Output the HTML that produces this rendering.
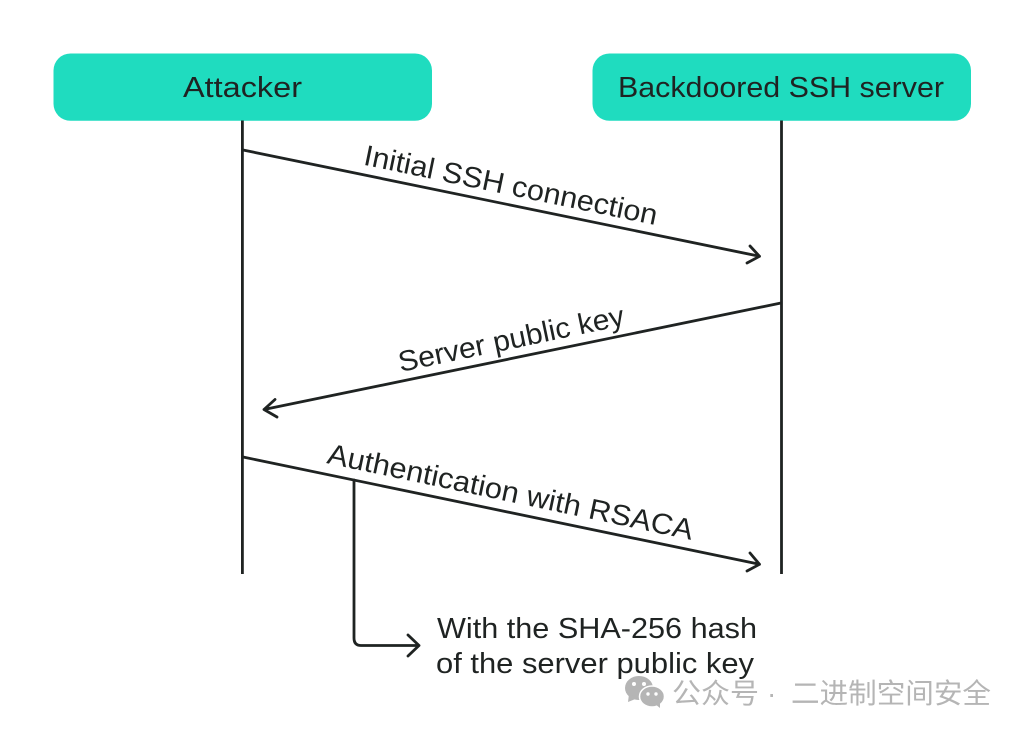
<!DOCTYPE html>
<html><head><meta charset="utf-8"><style>
html,body{margin:0;padding:0;background:#fff;width:1024px;height:734px;overflow:hidden}
svg{display:block}
text{font-family:"Liberation Sans","Noto Sans CJK SC",sans-serif;fill:#1f2322;font-size:29px}
.l{fill:none;stroke:#1f2322;stroke-width:2.8;stroke-linecap:round;stroke-linejoin:round}
.w{font-size:28px;fill:#b5b5b5}
</style></head><body>
<svg width="1024" height="734" viewBox="0 0 1024 734" xmlns="http://www.w3.org/2000/svg">
<rect width="1024" height="734" fill="#fff"/>
<rect x="53.500" y="53.500" width="378.500" height="67.300" rx="17" fill="#1fdcbf"/>
<rect x="592.500" y="53.500" width="378.500" height="67.300" rx="17" fill="#1fdcbf"/>
<text x="183" y="97" textLength="119" lengthAdjust="spacingAndGlyphs">Attacker</text>
<text x="618" y="97" textLength="326" lengthAdjust="spacingAndGlyphs">Backdoored SSH server</text>
<path class="l" style="stroke-linecap:butt" d="M242.400 120.500V574M781.500 120.500V574"/>
<path class="l" d="M243 150L759.500 256.300M750 246L759.500 256.300L747 263"/>
<path class="l" d="M781 303L264 409.500M275 399.500L264 409.500L277 417"/>
<path class="l" d="M243 457L759.500 564.300M750 553L759.500 564.300L747 571"/>
<path class="l" d="M354 480V638Q354 645.500 361 645.500H419M408 635L419 645.500L408 656"/>
<text transform="translate(362.500 164.500) rotate(11.700)" textLength="299" lengthAdjust="spacingAndGlyphs">Initial SSH connection</text>
<text transform="translate(400.500 372) rotate(-11.800)" textLength="230" lengthAdjust="spacingAndGlyphs">Server public key</text>
<text transform="translate(326 463) rotate(11.900)" textLength="373" lengthAdjust="spacingAndGlyphs">Authentication with RSACA</text>
<text x="437" y="638" textLength="320" lengthAdjust="spacingAndGlyphs">With the SHA-256 hash</text>
<text x="436" y="673" textLength="318" lengthAdjust="spacingAndGlyphs">of the server public key</text>
<g>
<ellipse cx="639" cy="688" rx="14" ry="12" fill="#b5b5b5"/>
<path d="M629 694L628 702L638 698Z" fill="#b5b5b5"/>
<circle cx="634" cy="684" r="2" fill="#fff"/>
<circle cx="644" cy="684" r="2" fill="#fff"/>
<ellipse cx="652" cy="696.500" rx="12.500" ry="10.500" fill="#b5b5b5" stroke="#fff" stroke-width="1.500"/>
<path d="M655 704L660 708L660 701Z" fill="#b5b5b5"/>
<circle cx="648" cy="694" r="1.700" fill="#fff"/>
<circle cx="656" cy="694" r="1.700" fill="#fff"/>
</g>
<text class="w" x="672" y="703" textLength="87" lengthAdjust="spacingAndGlyphs">公众号</text>
<text class="w" x="767" y="703">·</text>
<text class="w" x="791" y="703" textLength="200" lengthAdjust="spacingAndGlyphs">二进制空间安全</text>
</svg>
</body></html>
